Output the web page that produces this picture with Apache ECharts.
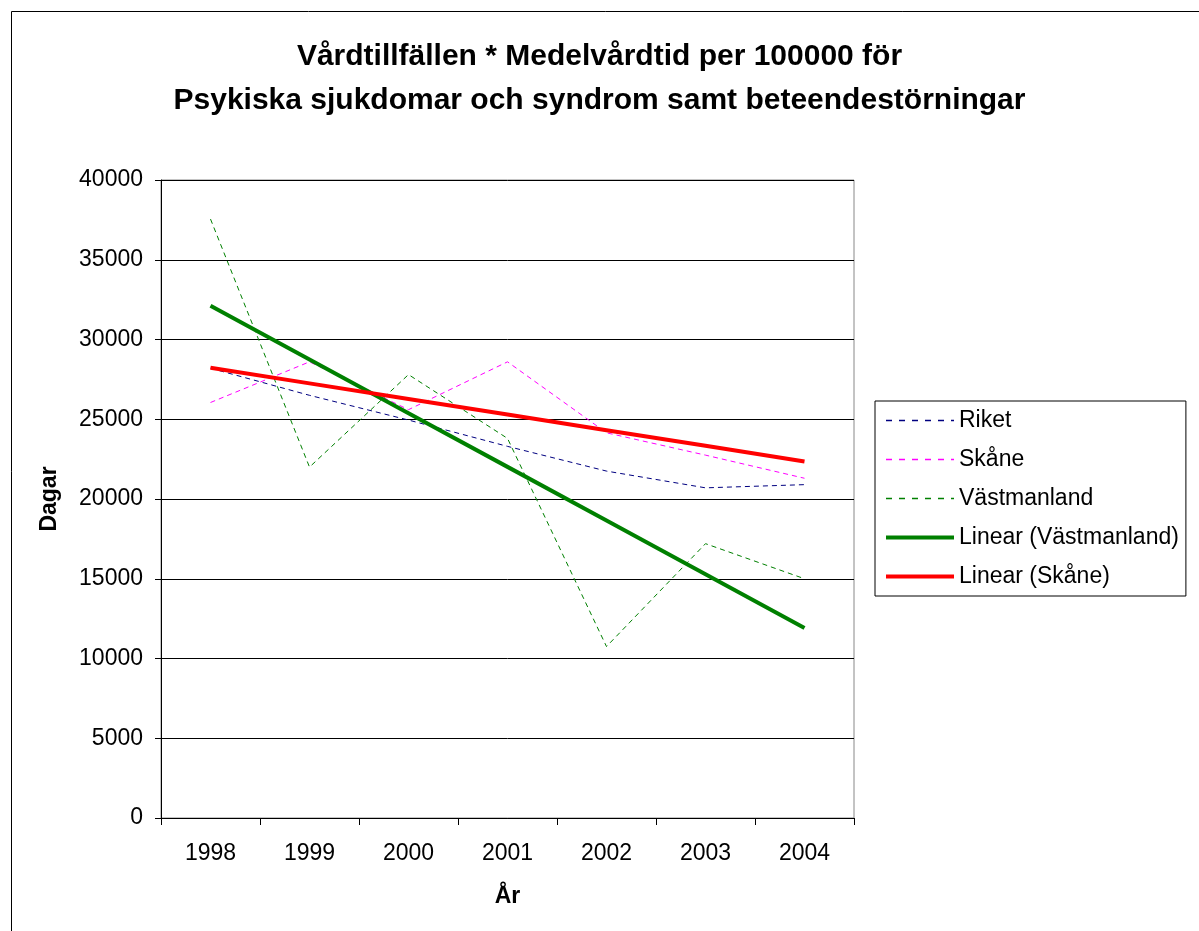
<!DOCTYPE html>
<html>
<head>
<meta charset="utf-8">
<script src="https://cdn.jsdelivr.net/npm/echarts@6/dist/echarts.min.js"></script>
<style>
  html, body { margin: 0; padding: 0; background: #fff; }
  #chart { width: 1199px; height: 931px; }
</style>
</head>
<body>
<div id="chart"></div>
<script>
// values
const years = ["1998", "1999", "2000", "2001", "2002", "2003", "2004"];
const riket = [28200, 26500, 24950, 23300, 21750, 20700, 20900];
const skane = [26050, 28600, 25600, 28600, 24150, 22750, 21300];
const vastmanland = [37550, 22000, 27800, 23800, 10750, 17200, 15000];

const font = "'Liberation Sans', Arial, sans-serif";
const navy = "#000080", magenta = "#ff00ff", green = "#008000", red = "#ff0000";

// least squares trend, like the spreadsheet's "Linear" trendline
function linear(vals) {
  const n = vals.length;
  let sx = 0, sy = 0, sxy = 0, sxx = 0;
  vals.forEach((v, i) => { sx += i; sy += v; sxy += i * v; sxx += i * i; });
  const k = (n * sxy - sx * sy) / (n * sxx - sx * sx);
  const m = (sy - k * sx) / n;
  return vals.map((v, i) => Math.round(m + k * i));
}

const chart = echarts.init(document.getElementById("chart"));

const dashed = (name, data, color) => ({
  name: name,
  type: "line",
  data: data,
  symbol: "none",
  z: 3,
  lineStyle: { color: color, width: 1, type: [5, 4] },
  itemStyle: { color: color }
});
const trend = (name, data, color) => ({
  name: name,
  type: "line",
  data: data,
  symbol: "none",
  z: 4,
  lineStyle: { color: color, width: 4 },
  itemStyle: { color: color }
});

chart.setOption({
  backgroundColor: "#fff",
  animation: false,
  textStyle: { fontFamily: font },
  title: {
    text: "Vårdtillfällen * Medelvårdtid per 100000 för\nPsykiska sjukdomar och syndrom samt beteendestörningar",
    left: "center",
    top: 30,
    textStyle: { fontFamily: font, fontSize: 30, fontWeight: "bold", color: "#000", lineHeight: 44 }
  },
  graphic: [{
    type: "rect",
    shape: { x: 11.5, y: 11.5, width: 1300, height: 1000 },
    style: { fill: "none", stroke: "#000", lineWidth: 1 },
    silent: true
  }],
  legend: {
    orient: "vertical",
    left: 875,
    top: 401,
    padding: [8, 7, 8, 9],
    itemWidth: 68,
    itemHeight: 8,
    itemGap: 16,
    borderColor: "#000",
    borderWidth: 1,
    itemStyle: { opacity: 0 },
    textStyle: { fontFamily: font, fontSize: 23, color: "#000" },
    data: [
      { name: "Riket", lineStyle: { color: navy, width: 1.5, type: [6, 7] } },
      { name: "Skåne", lineStyle: { color: magenta, width: 1.5, type: [6, 7] } },
      { name: "Västmanland", lineStyle: { color: green, width: 1.5, type: [6, 7] } },
      { name: "Linear (Västmanland)", lineStyle: { color: green, width: 4 } },
      { name: "Linear (Skåne)", lineStyle: { color: red, width: 4 } }
    ]
  },
  grid: {
    left: 161,
    top: 180,
    right: 345,
    bottom: 113,
    show: true,
    borderColor: "#888",
    borderWidth: 1
  },
  xAxis: {
    type: "category",
    data: years,
    boundaryGap: true,
    name: "År",
    nameLocation: "middle",
    nameGap: 67,
    nameTextStyle: { fontFamily: font, fontSize: 23, fontWeight: "bold", color: "#000" },
    axisLine: { lineStyle: { color: "#000", width: 1 } },
    axisTick: { show: true, length: 7, interval: 0, lineStyle: { color: "#000" } },
    axisLabel: { fontFamily: font, fontSize: 23, color: "#000", margin: 24, interval: 0 },
    splitLine: { show: false }
  },
  yAxis: {
    type: "value",
    min: 0,
    max: 40000,
    interval: 5000,
    name: "Dagar",
    nameLocation: "middle",
    nameGap: 100,
    nameRotate: 90,
    nameTextStyle: { fontFamily: font, fontSize: 23, fontWeight: "bold", color: "#000" },
    axisLine: { show: true, lineStyle: { color: "#000", width: 1 } },
    axisTick: { show: true, length: 6, lineStyle: { color: "#000" } },
    axisLabel: { fontFamily: font, fontSize: 23, color: "#000", margin: 18, formatter: (v) => String(v) },
    splitLine: { show: true, lineStyle: { color: "#000", width: 1 } }
  },
  series: [
    dashed("Riket", riket, navy),
    dashed("Skåne", skane, magenta),
    dashed("Västmanland", vastmanland, green),
    trend("Linear (Västmanland)", linear(vastmanland), green),
    trend("Linear (Skåne)", linear(skane), red)
  ]
});
</script>
</body>
</html>
